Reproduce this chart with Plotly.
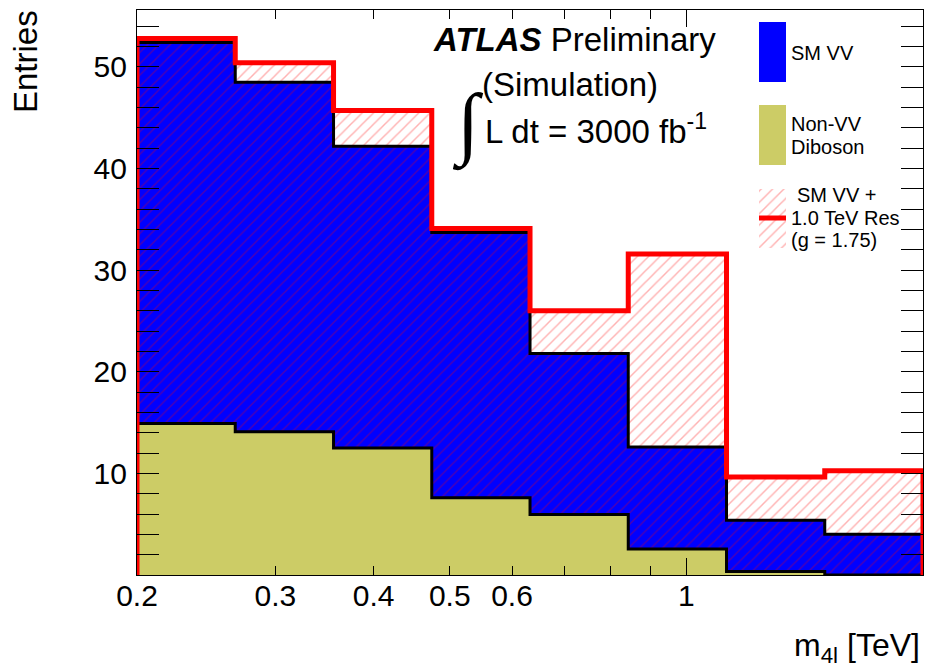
import plotly.graph_objects as go
import math

# ---------------- data ----------------
bin_edges = [0.2, 0.2667, 0.3557, 0.4743, 0.6325, 0.8434, 1.1247, 1.4998, 2.0]  # m4l [TeV]
non_vv_diboson = [14.9, 14.1, 12.5, 7.6, 5.95, 2.55, 0.35, 0.0]
sm_vv_stacked = [52.4, 48.5, 42.2, 33.7, 21.8, 12.6, 5.4, 4.0]        # SM VV stacked on Non-VV
sm_vv_plus_res = [52.8, 50.4, 45.7, 34.1, 26.0, 31.6, 9.65, 10.25]    # SM VV + 1.0 TeV Res (g = 1.75)

x_tickvals = [0.2, 0.3, 0.4, 0.5, 0.6, 1]
x_ticktext = ["0.2", "0.3", "0.4", "0.5", "0.6", "1"]
x_minor_tickvals = [0.7, 0.8, 0.9, 2]
y_tickvals = [10, 20, 30, 40, 50]
y_ticktext = ["10", "20", "30", "40", "50"]

# ---------------- layout geometry ----------------
W, H = 925, 671
PL, PR, PT, PB = 137, 923, 10, 575  # plot-area pixel box
FONT = "Liberation Sans"


def px(x):
    return (x - PL) / (PR - PL)


def py(y):
    return (PB - y) / (PB - PT)


def step_fill(vals):
    return bin_edges, list(vals) + [vals[-1]]


def step_outline(vals):
    xs = [bin_edges[0]] + bin_edges + [bin_edges[-1]]
    ys = [0] + list(vals) + [vals[-1], 0]
    return xs, ys


HATCH = dict(shape="/", fgcolor="#ff0000", fgopacity=0.3, bgcolor="rgba(0,0,0,0)", size=8, solidity=0.18)

fig = go.Figure()

# SM VV (blue, stacked total)
x, y = step_fill(sm_vv_stacked)
fig.add_trace(go.Scatter(x=x, y=y, mode="lines", line=dict(shape="hv", width=0),
                         fill="tozeroy", fillcolor="#0000ff", hoverinfo="skip", showlegend=False))
# SM VV + Res hatch
x, y = step_fill(sm_vv_plus_res)
fig.add_trace(go.Scatter(x=x, y=y, mode="lines", line=dict(shape="hv", width=0),
                         fill="tozeroy", fillcolor="rgba(0,0,0,0)", fillpattern=HATCH,
                         hoverinfo="skip", showlegend=False))
# Non-VV diboson (olive)
x, y = step_fill(non_vv_diboson)
fig.add_trace(go.Scatter(x=x, y=y, mode="lines", line=dict(shape="hv", width=0),
                         fill="tozeroy", fillcolor="#cccc66", hoverinfo="skip", showlegend=False))
# outlines
x, y = step_outline(sm_vv_stacked)
fig.add_trace(go.Scatter(x=x, y=y, mode="lines", line=dict(shape="hv", width=3, color="black"),
                         hoverinfo="skip", showlegend=False))
x, y = step_outline(non_vv_diboson)
fig.add_trace(go.Scatter(x=x, y=y, mode="lines", line=dict(shape="hv", width=3, color="black"),
                         hoverinfo="skip", showlegend=False))
x, y = step_outline(sm_vv_plus_res)
fig.add_trace(go.Scatter(x=x, y=y, mode="lines", line=dict(shape="hv", width=5, color="#ff0000"),
                         hoverinfo="skip", showlegend=False))

# helper trace for the long-tick overlay axis
fig.add_trace(go.Scatter(x=[1], y=[1], xaxis="x2", yaxis="y", mode="markers",
                         marker=dict(opacity=0), hoverinfo="skip", showlegend=False))


# ---------------- legend keys (on an auxiliary unit axis) ----------------
def rect(x0, x1, y0, y1):
    return [px(x0), px(x1), px(x1), px(x0), px(x0)], [py(y0), py(y0), py(y1), py(y1), py(y0)]


lx, ly = rect(759, 786, 22, 82)
fig.add_trace(go.Scatter(x=lx, y=ly, xaxis="x3", yaxis="y3", mode="lines", fill="toself",
                         fillcolor="#0000ff", line=dict(width=0), hoverinfo="skip", showlegend=False))
lx, ly = rect(759, 786, 105, 165)
fig.add_trace(go.Scatter(x=lx, y=ly, xaxis="x3", yaxis="y3", mode="lines", fill="toself",
                         fillcolor="#cccc66", line=dict(width=0), hoverinfo="skip", showlegend=False))
lx, ly = rect(759, 786, 189, 248)
fig.add_trace(go.Scatter(x=lx, y=ly, xaxis="x3", yaxis="y3", mode="lines", fill="toself",
                         fillcolor="rgba(0,0,0,0)", fillpattern=HATCH,
                         line=dict(width=0), hoverinfo="skip", showlegend=False))
fig.add_trace(go.Scatter(x=[px(759), px(786)], y=[py(218), py(218)], xaxis="x3", yaxis="y3",
                         mode="lines", line=dict(width=5, color="#ff0000"),
                         hoverinfo="skip", showlegend=False))

# ---------------- annotations ----------------
ann = []


def text(t, x, y, size, xanchor="left", yanchor="middle", angle=0, family=FONT):
    ann.append(dict(text=t, x=px(x), y=py(y), xref="paper", yref="paper", showarrow=False,
                    xanchor=xanchor, yanchor=yanchor, textangle=angle,
                    font=dict(family=family, size=size, color="black")))


text("<b><i>ATLAS</i></b> Preliminary", 431, 39, 33)
text("(Simulation)", 480, 84, 33)
text("\u222b", 468, 124, 80, xanchor="center", family="Liberation Serif")
text("L dt = 3000 fb<sup>-1</sup>", 483, 129, 33)
text("SM VV", 789, 53, 20)
text("Non-VV", 789, 124, 20)
text("Diboson", 789, 147, 20)
text("SM VV +", 795, 195, 20)
text("1.0 TeV Res", 789, 218, 20)
text("(g = 1.75)", 789, 240, 20)
text("m<sub>4l</sub> [TeV]", 922, 647, 32, xanchor="right")
text("Entries", 26, 61, 33, angle=-90, xanchor="center")

xr = [math.log10(bin_edges[0]), math.log10(bin_edges[-1])]
axis_common = dict(showgrid=False, zeroline=False, showline=True, linecolor="black", linewidth=1.2,
                   ticks="inside", tickcolor="black", tickwidth=1.2, mirror="allticks",
                   automargin=False)

fig.update_layout(
    width=W, height=H,
    margin=dict(l=PL, r=W - PR, t=PT, b=H - PB, autoexpand=False),
    paper_bgcolor="white", plot_bgcolor="white",
    font=dict(family=FONT, size=30, color="black"),
    showlegend=False,
    xaxis=dict(type="log", range=xr, tickvals=x_tickvals, ticktext=x_ticktext, ticklen=9,
               tickfont=dict(size=30), ticklabelstandoff=-6,
               minor=dict(ticks="inside", ticklen=9, tickcolor="black", tickwidth=1.2,
                          tickvals=x_minor_tickvals, showgrid=False),
               **axis_common),
    xaxis2=dict(type="log", range=xr, overlaying="x", anchor="y", side="bottom", tickvals=[1],
                ticklen=17, showticklabels=False, **axis_common),
    yaxis=dict(range=[0, 55.6], tickvals=y_tickvals, ticktext=y_ticktext, ticklen=22,
               tickfont=dict(size=30), ticklabelstandoff=3,
               minor=dict(ticks="inside", ticklen=11, tickcolor="black", tickwidth=1.2,
                          tickmode="linear", tick0=0, dtick=2, showgrid=False),
               **axis_common),
    xaxis3=dict(range=[0, 1], overlaying="x", anchor="y3", visible=False),
    yaxis3=dict(range=[0, 1], overlaying="y", anchor="x3", visible=False),
    annotations=ann,
)

fig.write_html("out.html", config={"displayModeBar": False},
               post_script="document.body.style.margin='0';document.body.style.overflow='hidden';")
